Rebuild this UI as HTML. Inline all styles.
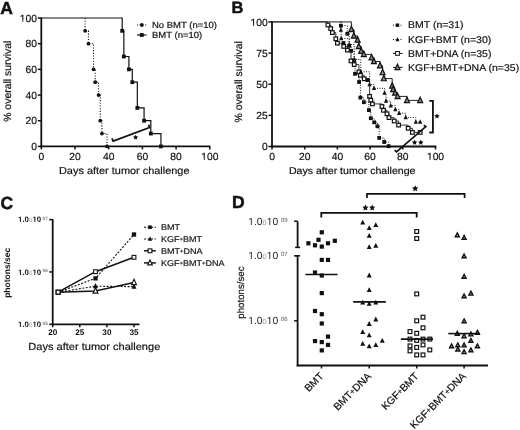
<!DOCTYPE html>
<html><head><meta charset="utf-8"><style>
html,body{margin:0;padding:0;background:#fff;}
body{width:520px;height:430px;overflow:hidden;}
svg{display:block;font-family:"Liberation Sans", sans-serif;filter:grayscale(1) blur(0.3px);text-rendering:geometricPrecision;}
</style></head><body>
<svg width="520" height="430" viewBox="0 0 520 430">
<rect width="520" height="430" fill="#fff"/>
<text x="0.20" y="14.00" font-size="17.5" text-anchor="start" font-weight="bold" fill="#111" stroke="#111" stroke-width="0.5">A</text>
<path d="M85.11,18.00 H85.11 V30.84 H88.48 V43.68 H93.53 V69.36 H95.22 V82.20 H98.59 V95.04 H100.28 V120.72 H101.96 V133.56 H107.02 V146.40" fill="none" stroke="#111" stroke-width="1.1" stroke-dasharray="1.1 1.6"/>
<path d="M41.30,18.00 H122.18 V30.84 H123.86 V56.52 H128.92 V69.36 H132.29 V82.20 H137.34 V107.88 H144.08 V120.72 H150.82 V133.56 H160.94 V146.40" fill="none" stroke="#111" stroke-width="1.2"/>
<circle cx="85.11" cy="30.84" r="1.9" fill="#111"/>
<circle cx="88.48" cy="43.68" r="1.9" fill="#111"/>
<circle cx="93.53" cy="69.36" r="1.9" fill="#111"/>
<circle cx="95.22" cy="82.20" r="1.9" fill="#111"/>
<circle cx="98.59" cy="95.04" r="1.9" fill="#111"/>
<circle cx="100.28" cy="120.72" r="1.9" fill="#111"/>
<circle cx="101.96" cy="133.56" r="1.9" fill="#111"/>
<circle cx="107.02" cy="146.40" r="1.9" fill="#111"/>
<rect x="120.28" y="28.94" width="3.8" height="3.8" fill="#111"/>
<rect x="121.96" y="54.62" width="3.8" height="3.8" fill="#111"/>
<rect x="127.02" y="67.46" width="3.8" height="3.8" fill="#111"/>
<rect x="130.39" y="80.30" width="3.8" height="3.8" fill="#111"/>
<rect x="135.44" y="105.98" width="3.8" height="3.8" fill="#111"/>
<rect x="142.18" y="118.82" width="3.8" height="3.8" fill="#111"/>
<rect x="148.92" y="131.66" width="3.8" height="3.8" fill="#111"/>
<rect x="159.03" y="144.50" width="3.8" height="3.8" fill="#111"/>
<line x1="41.30" y1="17.50" x2="41.30" y2="147.20" stroke="#111" stroke-width="1.8"/>
<line x1="40.40" y1="146.40" x2="210.30" y2="146.40" stroke="#111" stroke-width="1.8"/>
<line x1="37.80" y1="146.40" x2="41.30" y2="146.40" stroke="#111" stroke-width="1.5"/>
<text class="n1" x="37.00" y="150.10" font-size="10.3" text-anchor="end" font-weight="normal" fill="#111" stroke="#111" stroke-width="0.2">0</text>
<line x1="37.80" y1="120.72" x2="41.30" y2="120.72" stroke="#111" stroke-width="1.5"/>
<text class="n1" x="37.00" y="124.42" font-size="10.3" text-anchor="end" font-weight="normal" fill="#111" stroke="#111" stroke-width="0.2">20</text>
<line x1="37.80" y1="95.04" x2="41.30" y2="95.04" stroke="#111" stroke-width="1.5"/>
<text class="n1" x="37.00" y="98.74" font-size="10.3" text-anchor="end" font-weight="normal" fill="#111" stroke="#111" stroke-width="0.2">40</text>
<line x1="37.80" y1="69.36" x2="41.30" y2="69.36" stroke="#111" stroke-width="1.5"/>
<text class="n1" x="37.00" y="73.06" font-size="10.3" text-anchor="end" font-weight="normal" fill="#111" stroke="#111" stroke-width="0.2">60</text>
<line x1="37.80" y1="43.68" x2="41.30" y2="43.68" stroke="#111" stroke-width="1.5"/>
<text class="n1" x="37.00" y="47.38" font-size="10.3" text-anchor="end" font-weight="normal" fill="#111" stroke="#111" stroke-width="0.2">80</text>
<line x1="37.80" y1="18.00" x2="41.30" y2="18.00" stroke="#111" stroke-width="1.5"/>
<text class="n1" x="37.00" y="21.70" font-size="10.3" text-anchor="end" font-weight="normal" fill="#111" stroke="#111" stroke-width="0.2">100</text>
<line x1="41.30" y1="146.40" x2="41.30" y2="149.40" stroke="#111" stroke-width="1.5"/>
<text class="n1" x="41.30" y="160.10" font-size="10.3" text-anchor="middle" font-weight="normal" fill="#111" stroke="#111" stroke-width="0.2">0</text>
<line x1="75.00" y1="146.40" x2="75.00" y2="149.40" stroke="#111" stroke-width="1.5"/>
<text class="n1" x="75.00" y="160.10" font-size="10.3" text-anchor="middle" font-weight="normal" fill="#111" stroke="#111" stroke-width="0.2">20</text>
<line x1="108.70" y1="146.40" x2="108.70" y2="149.40" stroke="#111" stroke-width="1.5"/>
<text class="n1" x="108.70" y="160.10" font-size="10.3" text-anchor="middle" font-weight="normal" fill="#111" stroke="#111" stroke-width="0.2">40</text>
<line x1="142.40" y1="146.40" x2="142.40" y2="149.40" stroke="#111" stroke-width="1.5"/>
<text class="n1" x="142.40" y="160.10" font-size="10.3" text-anchor="middle" font-weight="normal" fill="#111" stroke="#111" stroke-width="0.2">60</text>
<line x1="176.10" y1="146.40" x2="176.10" y2="149.40" stroke="#111" stroke-width="1.5"/>
<text class="n1" x="176.10" y="160.10" font-size="10.3" text-anchor="middle" font-weight="normal" fill="#111" stroke="#111" stroke-width="0.2">80</text>
<line x1="209.80" y1="146.40" x2="209.80" y2="149.40" stroke="#111" stroke-width="1.5"/>
<text class="n1" x="209.80" y="160.10" font-size="10.3" text-anchor="middle" font-weight="normal" fill="#111" stroke="#111" stroke-width="0.2">100</text>
<text x="124.25" y="174.20" font-size="10.93" text-anchor="middle" font-weight="normal" fill="#111" stroke="#111" stroke-width="0.2" transform="translate(0,174.20) scale(1,0.93) translate(0,-174.20)">Days after tumor challenge</text>
<text x="0.00" y="0.00" font-size="10.45" text-anchor="middle" font-weight="normal" fill="#111" stroke="#111" stroke-width="0.2" transform="translate(10.8,81.2) rotate(-90)">% overall survival</text>
<line x1="137.00" y1="25.00" x2="146.50" y2="25.00" stroke="#111" stroke-width="1.1" stroke-dasharray="1.1 1.6"/>
<circle cx="141.80" cy="25.00" r="1.9" fill="#111"/>
<line x1="137.00" y1="35.00" x2="146.50" y2="35.00" stroke="#111" stroke-width="1.2"/>
<rect x="139.90" y="33.10" width="3.8" height="3.8" fill="#111"/>
<text x="152.00" y="27.80" font-size="9.5" text-anchor="start" font-weight="normal" fill="#111" stroke="#111" stroke-width="0.2" transform="translate(0,27.80) scale(1,0.93) translate(0,-27.80)">No BMT (n=10)</text>
<text x="152.00" y="37.80" font-size="9.5" text-anchor="start" font-weight="normal" fill="#111" stroke="#111" stroke-width="0.2" transform="translate(0,37.80) scale(1,0.93) translate(0,-37.80)">BMT (n=10)</text>
<path d="M111.90,138.40 L113.20,141.10 L149.50,127.50 L148.60,124.80" fill="none" stroke="#111" stroke-width="1.8"/>
<polygon points="135.60,134.70 136.39,136.31 138.17,136.57 136.88,137.82 137.19,139.58 135.60,138.75 134.01,139.58 134.32,137.82 133.03,136.57 134.81,136.31" fill="#111"/>
<text x="231.50" y="13.00" font-size="16.5" text-anchor="start" font-weight="bold" fill="#111" stroke="#111" stroke-width="0.5">B</text>
<path d="M340.90,21.90 H340.90 V25.70 H347.30 V33.80 H349.20 V45.80 H351.20 V50.80 H354.20 V60.40 H355.00 V73.80 H359.10 V82.00 H360.40 V97.60 H363.90 V102.20 H368.90 V110.10 H370.80 V118.20 H374.20 V122.30 H377.40 V126.30 H379.20 V137.90 H384.20 V142.00 H388.70 V146.20" fill="none" stroke="#111" stroke-width="1" stroke-dasharray="1 1.5"/>
<path d="M340.90,21.90 H340.90 V30.00 H341.20 V38.40 H349.20 V44.50 H354.20 V59.50 H360.80 V71.80 H369.50 V84.50 H374.00 V88.30 H384.50 V92.90 H386.00 V101.00 H390.70 V105.70 H395.30 V109.40 H399.10 V113.20 H405.70 V117.40 H415.80 V122.00 H420.20 V122.00" fill="none" stroke="#111" stroke-width="1" stroke-dasharray="1 1.5"/>
<path d="M272.00,21.90 H327.90 V25.00 H330.70 V28.60 H332.40 V32.60 H335.80 V38.80 H337.40 V43.20 H343.70 V46.40 H347.40 V50.10 H351.00 V60.90 H354.20 V64.60 H358.90 V71.90 H360.40 V75.30 H364.20 V78.80 H369.60 V96.40 H370.80 V100.20 H372.40 V103.90 H381.90 V106.50 H383.50 V110.30 H387.00 V113.80 H389.00 V117.60 H394.20 V121.00 H398.60 V125.10 H408.20 V128.30 H412.40 V132.40 H420.20 V132.40" fill="none" stroke="#333" stroke-width="1"/>
<path d="M272.00,21.90 H351.40 V29.50 H353.90 V36.00 H357.60 V40.00 H358.80 V46.50 H361.20 V51.20 H363.80 V54.40 H371.60 V57.70 H373.90 V61.50 H380.00 V65.70 H382.60 V72.60 H383.80 V78.60 H392.20 V86.00 H393.20 V89.50 H395.10 V93.00 H397.60 V96.40 H407.00 V100.40 H420.20 V100.40" fill="none" stroke="#222" stroke-width="1"/>
<polygon points="351.40,26.26 353.90,31.66 348.90,31.66" fill="#888" stroke="#111" stroke-width="1.2" stroke-linejoin="miter"/>
<polygon points="353.90,32.76 356.40,38.16 351.40,38.16" fill="#888" stroke="#111" stroke-width="1.2" stroke-linejoin="miter"/>
<polygon points="357.60,36.76 360.10,42.16 355.10,42.16" fill="#888" stroke="#111" stroke-width="1.2" stroke-linejoin="miter"/>
<polygon points="358.80,43.26 361.30,48.66 356.30,48.66" fill="#888" stroke="#111" stroke-width="1.2" stroke-linejoin="miter"/>
<polygon points="361.20,47.96 363.70,53.36 358.70,53.36" fill="#888" stroke="#111" stroke-width="1.2" stroke-linejoin="miter"/>
<polygon points="363.80,51.16 366.30,56.56 361.30,56.56" fill="#888" stroke="#111" stroke-width="1.2" stroke-linejoin="miter"/>
<polygon points="371.60,54.46 374.10,59.86 369.10,59.86" fill="#888" stroke="#111" stroke-width="1.2" stroke-linejoin="miter"/>
<polygon points="373.90,58.26 376.40,63.66 371.40,63.66" fill="#888" stroke="#111" stroke-width="1.2" stroke-linejoin="miter"/>
<polygon points="380.00,62.46 382.50,67.86 377.50,67.86" fill="#888" stroke="#111" stroke-width="1.2" stroke-linejoin="miter"/>
<polygon points="382.60,69.36 385.10,74.76 380.10,74.76" fill="#888" stroke="#111" stroke-width="1.2" stroke-linejoin="miter"/>
<polygon points="383.80,75.36 386.30,80.76 381.30,80.76" fill="#888" stroke="#111" stroke-width="1.2" stroke-linejoin="miter"/>
<polygon points="392.20,82.76 394.70,88.16 389.70,88.16" fill="#888" stroke="#111" stroke-width="1.2" stroke-linejoin="miter"/>
<polygon points="393.20,86.26 395.70,91.66 390.70,91.66" fill="#888" stroke="#111" stroke-width="1.2" stroke-linejoin="miter"/>
<polygon points="395.10,89.76 397.60,95.16 392.60,95.16" fill="#888" stroke="#111" stroke-width="1.2" stroke-linejoin="miter"/>
<polygon points="397.60,93.16 400.10,98.56 395.10,98.56" fill="#888" stroke="#111" stroke-width="1.2" stroke-linejoin="miter"/>
<polygon points="407.00,97.16 409.50,102.56 404.50,102.56" fill="#888" stroke="#111" stroke-width="1.2" stroke-linejoin="miter"/>
<polygon points="420.20,97.16 422.70,102.56 417.70,102.56" fill="#888" stroke="#111" stroke-width="1.2" stroke-linejoin="miter"/>
<rect x="326.10" y="23.20" width="3.6" height="3.6" fill="#fff" stroke="#111" stroke-width="1.2"/>
<rect x="328.90" y="26.80" width="3.6" height="3.6" fill="#fff" stroke="#111" stroke-width="1.2"/>
<rect x="330.60" y="30.80" width="3.6" height="3.6" fill="#fff" stroke="#111" stroke-width="1.2"/>
<rect x="334.00" y="37.00" width="3.6" height="3.6" fill="#fff" stroke="#111" stroke-width="1.2"/>
<rect x="335.60" y="41.40" width="3.6" height="3.6" fill="#fff" stroke="#111" stroke-width="1.2"/>
<rect x="341.90" y="44.60" width="3.6" height="3.6" fill="#fff" stroke="#111" stroke-width="1.2"/>
<rect x="345.60" y="48.30" width="3.6" height="3.6" fill="#fff" stroke="#111" stroke-width="1.2"/>
<rect x="349.20" y="59.10" width="3.6" height="3.6" fill="#fff" stroke="#111" stroke-width="1.2"/>
<rect x="352.40" y="62.80" width="3.6" height="3.6" fill="#fff" stroke="#111" stroke-width="1.2"/>
<rect x="357.10" y="70.10" width="3.6" height="3.6" fill="#fff" stroke="#111" stroke-width="1.2"/>
<rect x="358.60" y="73.50" width="3.6" height="3.6" fill="#fff" stroke="#111" stroke-width="1.2"/>
<rect x="362.40" y="77.00" width="3.6" height="3.6" fill="#fff" stroke="#111" stroke-width="1.2"/>
<rect x="367.80" y="94.60" width="3.6" height="3.6" fill="#fff" stroke="#111" stroke-width="1.2"/>
<rect x="369.00" y="98.40" width="3.6" height="3.6" fill="#fff" stroke="#111" stroke-width="1.2"/>
<rect x="370.60" y="102.10" width="3.6" height="3.6" fill="#fff" stroke="#111" stroke-width="1.2"/>
<rect x="380.10" y="104.70" width="3.6" height="3.6" fill="#fff" stroke="#111" stroke-width="1.2"/>
<rect x="381.70" y="108.50" width="3.6" height="3.6" fill="#fff" stroke="#111" stroke-width="1.2"/>
<rect x="385.20" y="112.00" width="3.6" height="3.6" fill="#fff" stroke="#111" stroke-width="1.2"/>
<rect x="387.20" y="115.80" width="3.6" height="3.6" fill="#fff" stroke="#111" stroke-width="1.2"/>
<rect x="392.40" y="119.20" width="3.6" height="3.6" fill="#fff" stroke="#111" stroke-width="1.2"/>
<rect x="396.80" y="123.30" width="3.6" height="3.6" fill="#fff" stroke="#111" stroke-width="1.2"/>
<rect x="406.40" y="126.50" width="3.6" height="3.6" fill="#fff" stroke="#111" stroke-width="1.2"/>
<rect x="410.60" y="130.60" width="3.6" height="3.6" fill="#fff" stroke="#111" stroke-width="1.2"/>
<rect x="418.40" y="130.60" width="3.6" height="3.6" fill="#fff" stroke="#111" stroke-width="1.2"/>
<polygon points="340.90,27.28 343.00,31.81 338.80,31.81" fill="#111"/>
<polygon points="341.20,35.68 343.30,40.21 339.10,40.21" fill="#111"/>
<polygon points="349.20,41.78 351.30,46.31 347.10,46.31" fill="#111"/>
<polygon points="354.20,56.78 356.30,61.31 352.10,61.31" fill="#111"/>
<polygon points="360.80,69.08 362.90,73.61 358.70,73.61" fill="#111"/>
<polygon points="369.50,81.78 371.60,86.31 367.40,86.31" fill="#111"/>
<polygon points="374.00,85.58 376.10,90.11 371.90,90.11" fill="#111"/>
<polygon points="384.50,90.18 386.60,94.71 382.40,94.71" fill="#111"/>
<polygon points="386.00,98.28 388.10,102.81 383.90,102.81" fill="#111"/>
<polygon points="390.70,102.98 392.80,107.51 388.60,107.51" fill="#111"/>
<polygon points="395.30,106.68 397.40,111.21 393.20,111.21" fill="#111"/>
<polygon points="399.10,110.48 401.20,115.01 397.00,115.01" fill="#111"/>
<polygon points="405.70,114.68 407.80,119.21 403.60,119.21" fill="#111"/>
<polygon points="415.80,119.28 417.90,123.81 413.70,123.81" fill="#111"/>
<polygon points="420.20,119.28 422.30,123.81 418.10,123.81" fill="#111"/>
<rect x="339.00" y="23.80" width="3.8" height="3.8" fill="#111"/>
<rect x="345.40" y="31.90" width="3.8" height="3.8" fill="#111"/>
<rect x="347.30" y="43.90" width="3.8" height="3.8" fill="#111"/>
<rect x="349.30" y="48.90" width="3.8" height="3.8" fill="#111"/>
<rect x="352.30" y="58.50" width="3.8" height="3.8" fill="#111"/>
<rect x="353.10" y="71.90" width="3.8" height="3.8" fill="#111"/>
<rect x="357.20" y="80.10" width="3.8" height="3.8" fill="#111"/>
<rect x="358.50" y="95.70" width="3.8" height="3.8" fill="#111"/>
<rect x="362.00" y="100.30" width="3.8" height="3.8" fill="#111"/>
<rect x="367.00" y="108.20" width="3.8" height="3.8" fill="#111"/>
<rect x="368.90" y="116.30" width="3.8" height="3.8" fill="#111"/>
<rect x="372.30" y="120.40" width="3.8" height="3.8" fill="#111"/>
<rect x="375.50" y="124.40" width="3.8" height="3.8" fill="#111"/>
<rect x="377.30" y="136.00" width="3.8" height="3.8" fill="#111"/>
<rect x="382.30" y="140.10" width="3.8" height="3.8" fill="#111"/>
<rect x="386.80" y="144.30" width="3.8" height="3.8" fill="#111"/>
<rect x="365.60" y="78.20" width="3.8" height="3.8" fill="#111"/>
<rect x="341.60" y="41.10" width="3.8" height="3.8" fill="#111"/>
<line x1="272.00" y1="21.40" x2="272.00" y2="147.30" stroke="#111" stroke-width="1.8"/>
<line x1="271.10" y1="146.50" x2="436.30" y2="146.50" stroke="#111" stroke-width="1.8"/>
<line x1="268.50" y1="146.50" x2="272.00" y2="146.50" stroke="#111" stroke-width="1.5"/>
<text class="n1" x="267.70" y="150.20" font-size="10.3" text-anchor="end" font-weight="normal" fill="#111" stroke="#111" stroke-width="0.2">0</text>
<line x1="268.50" y1="115.35" x2="272.00" y2="115.35" stroke="#111" stroke-width="1.5"/>
<text class="n1" x="267.70" y="119.05" font-size="10.3" text-anchor="end" font-weight="normal" fill="#111" stroke="#111" stroke-width="0.2">25</text>
<line x1="268.50" y1="84.20" x2="272.00" y2="84.20" stroke="#111" stroke-width="1.5"/>
<text class="n1" x="267.70" y="87.90" font-size="10.3" text-anchor="end" font-weight="normal" fill="#111" stroke="#111" stroke-width="0.2">50</text>
<line x1="268.50" y1="53.05" x2="272.00" y2="53.05" stroke="#111" stroke-width="1.5"/>
<text class="n1" x="267.70" y="56.75" font-size="10.3" text-anchor="end" font-weight="normal" fill="#111" stroke="#111" stroke-width="0.2">75</text>
<line x1="268.50" y1="21.90" x2="272.00" y2="21.90" stroke="#111" stroke-width="1.5"/>
<text class="n1" x="267.70" y="25.60" font-size="10.3" text-anchor="end" font-weight="normal" fill="#111" stroke="#111" stroke-width="0.2">100</text>
<line x1="272.00" y1="146.50" x2="272.00" y2="149.50" stroke="#111" stroke-width="1.5"/>
<text class="n1" x="272.00" y="160.20" font-size="10.3" text-anchor="middle" font-weight="normal" fill="#111" stroke="#111" stroke-width="0.2">0</text>
<line x1="304.70" y1="146.50" x2="304.70" y2="149.50" stroke="#111" stroke-width="1.5"/>
<text class="n1" x="304.70" y="160.20" font-size="10.3" text-anchor="middle" font-weight="normal" fill="#111" stroke="#111" stroke-width="0.2">20</text>
<line x1="337.40" y1="146.50" x2="337.40" y2="149.50" stroke="#111" stroke-width="1.5"/>
<text class="n1" x="337.40" y="160.20" font-size="10.3" text-anchor="middle" font-weight="normal" fill="#111" stroke="#111" stroke-width="0.2">40</text>
<line x1="370.10" y1="146.50" x2="370.10" y2="149.50" stroke="#111" stroke-width="1.5"/>
<text class="n1" x="370.10" y="160.20" font-size="10.3" text-anchor="middle" font-weight="normal" fill="#111" stroke="#111" stroke-width="0.2">60</text>
<line x1="402.80" y1="146.50" x2="402.80" y2="149.50" stroke="#111" stroke-width="1.5"/>
<text class="n1" x="402.80" y="160.20" font-size="10.3" text-anchor="middle" font-weight="normal" fill="#111" stroke="#111" stroke-width="0.2">80</text>
<line x1="435.50" y1="146.50" x2="435.50" y2="149.50" stroke="#111" stroke-width="1.5"/>
<text class="n1" x="435.50" y="160.20" font-size="10.3" text-anchor="middle" font-weight="normal" fill="#111" stroke="#111" stroke-width="0.2">100</text>
<text x="352.20" y="173.60" font-size="10.6" text-anchor="middle" font-weight="normal" fill="#111" stroke="#111" stroke-width="0.2" transform="translate(0,173.60) scale(1,0.93) translate(0,-173.60)">Days after tumor challenge</text>
<text x="0.00" y="0.00" font-size="10.45" text-anchor="middle" font-weight="normal" fill="#111" stroke="#111" stroke-width="0.2" transform="translate(242,81.8) rotate(-90)">% overall survival</text>
<line x1="393.00" y1="25.20" x2="402.60" y2="25.20" stroke="#111" stroke-width="1" stroke-dasharray="1 1.5"/>
<rect x="395.80" y="23.50" width="3.4" height="3.4" fill="#111"/>
<line x1="393.00" y1="39.50" x2="402.60" y2="39.50" stroke="#111" stroke-width="1" stroke-dasharray="1 1.5"/>
<polygon points="397.50,37.04 399.40,41.14 395.60,41.14" fill="#111"/>
<line x1="393.00" y1="53.40" x2="402.60" y2="53.40" stroke="#111" stroke-width="1"/>
<rect x="395.60" y="51.50" width="3.8" height="3.8" fill="#fff" stroke="#111" stroke-width="1"/>
<line x1="393.00" y1="67.40" x2="402.60" y2="67.40" stroke="#111" stroke-width="1"/>
<polygon points="397.50,64.16 400.00,69.56 395.00,69.56" fill="#888" stroke="#111" stroke-width="1.2" stroke-linejoin="miter"/>
<text x="408.00" y="28.30" font-size="10.5" text-anchor="start" font-weight="normal" fill="#111" stroke="#111" stroke-width="0.2" transform="translate(0,28.30) scale(1,0.93) translate(0,-28.30)">BMT (n=31)</text>
<text x="408.00" y="42.60" font-size="10.5" text-anchor="start" font-weight="normal" fill="#111" stroke="#111" stroke-width="0.2" transform="translate(0,42.60) scale(1,0.93) translate(0,-42.60)">KGF+BMT (n=30)</text>
<text x="408.00" y="56.60" font-size="10.5" text-anchor="start" font-weight="normal" fill="#111" stroke="#111" stroke-width="0.2" transform="translate(0,56.60) scale(1,0.93) translate(0,-56.60)">BMT+DNA (n=35)</text>
<text x="408.00" y="70.60" font-size="10.5" text-anchor="start" font-weight="normal" fill="#111" stroke="#111" stroke-width="0.2" transform="translate(0,70.60) scale(1,0.93) translate(0,-70.60)">KGF+BMT+DNA (n=35)</text>
<path d="M429.30,100.90 L432.90,100.90 L432.90,132.50 L429.30,132.50" fill="none" stroke="#111" stroke-width="1.8"/>
<polygon points="437.00,113.40 437.82,115.07 439.66,115.33 438.33,116.63 438.65,118.47 437.00,117.60 435.35,118.47 435.67,116.63 434.34,115.33 436.18,115.07" fill="#111"/>
<path d="M394.60,150.20 L396.50,151.90 L425.80,126.60 L423.80,125.20" fill="none" stroke="#111" stroke-width="1.7"/>
<polygon points="414.60,139.70 415.42,141.37 417.26,141.63 415.93,142.93 416.25,144.77 414.60,143.90 412.95,144.77 413.27,142.93 411.94,141.63 413.78,141.37" fill="#111"/>
<polygon points="420.80,139.70 421.62,141.37 423.46,141.63 422.13,142.93 422.45,144.77 420.80,143.90 419.15,144.77 419.47,142.93 418.14,141.63 419.98,141.37" fill="#111"/>
<text x="0.40" y="208.80" font-size="17.5" text-anchor="start" font-weight="bold" fill="#111" stroke="#111" stroke-width="0.5">C</text>
<line x1="52.70" y1="219.20" x2="52.70" y2="325.10" stroke="#111" stroke-width="1.8"/>
<line x1="51.80" y1="324.30" x2="139.50" y2="324.30" stroke="#111" stroke-width="1.8"/>
<line x1="49.20" y1="219.60" x2="52.70" y2="219.60" stroke="#111" stroke-width="1.5"/>
<text class="n1" x="41.1" y="222.30" font-size="7.8" text-anchor="end" font-weight="bold" fill="#111">1.0<tspan fill="#aaa" font-weight="normal" font-size="6.2">0</tspan>10</text>
<text x="42.6" y="220.00" font-size="4.6" font-weight="bold" fill="#777">07</text>
<line x1="49.20" y1="271.95" x2="52.70" y2="271.95" stroke="#111" stroke-width="1.5"/>
<text class="n1" x="41.1" y="274.65" font-size="7.8" text-anchor="end" font-weight="bold" fill="#111">1.0<tspan fill="#aaa" font-weight="normal" font-size="6.2">0</tspan>10</text>
<text x="42.6" y="272.35" font-size="4.6" font-weight="bold" fill="#777">06</text>
<line x1="49.20" y1="324.30" x2="52.70" y2="324.30" stroke="#111" stroke-width="1.5"/>
<text class="n1" x="41.1" y="327.00" font-size="7.8" text-anchor="end" font-weight="bold" fill="#111">1.0<tspan fill="#aaa" font-weight="normal" font-size="6.2">0</tspan>10</text>
<text x="42.6" y="324.70" font-size="4.6" font-weight="bold" fill="#777">05</text>
<line x1="52.70" y1="324.30" x2="52.70" y2="327.30" stroke="#111" stroke-width="1.5"/>
<text class="n1" x="52.70" y="335.30" font-size="8.2" text-anchor="middle" font-weight="bold" fill="#111">20</text>
<line x1="79.80" y1="324.30" x2="79.80" y2="327.30" stroke="#111" stroke-width="1.5"/>
<text class="n1" x="79.80" y="335.30" font-size="8.2" text-anchor="middle" font-weight="bold" fill="#111">25</text>
<line x1="106.90" y1="324.30" x2="106.90" y2="327.30" stroke="#111" stroke-width="1.5"/>
<text class="n1" x="106.90" y="335.30" font-size="8.2" text-anchor="middle" font-weight="bold" fill="#111">30</text>
<line x1="134.00" y1="324.30" x2="134.00" y2="327.30" stroke="#111" stroke-width="1.5"/>
<text class="n1" x="134.00" y="335.30" font-size="8.2" text-anchor="middle" font-weight="bold" fill="#111">35</text>
<text x="94.30" y="350.10" font-size="11.05" text-anchor="middle" font-weight="normal" fill="#111" stroke="#111" stroke-width="0.2" transform="translate(0,350.10) scale(1,0.93) translate(0,-350.10)">Days after tumor challenge</text>
<text x="0.00" y="0.00" font-size="8.5" text-anchor="middle" font-weight="bold" fill="#111" transform="translate(9.8,272.8) rotate(-90)">photons/sec</text>
<path d="M58.12,292.20 L95.50,278.40 L134.00,234.50" fill="none" stroke="#111" stroke-width="1.1" stroke-dasharray="2 1.5"/>
<path d="M58.12,292.20 L95.50,286.20 L134.00,286.70" fill="none" stroke="#111" stroke-width="1.1" stroke-dasharray="2 1.5"/>
<path d="M58.12,292.20 L95.50,271.70 L134.00,257.30" fill="none" stroke="#111" stroke-width="1.5"/>
<path d="M58.12,292.20 L95.50,291.00 L134.00,282.50" fill="none" stroke="#111" stroke-width="1.5"/>
<rect x="56.22" y="290.30" width="3.8" height="3.8" fill="#fff" stroke="#111" stroke-width="1.1"/>
<rect x="93.60" y="269.80" width="3.8" height="3.8" fill="#fff" stroke="#111" stroke-width="1.1"/>
<rect x="132.10" y="255.40" width="3.8" height="3.8" fill="#fff" stroke="#111" stroke-width="1.1"/>
<rect x="93.35" y="276.25" width="4.3" height="4.3" fill="#111"/>
<rect x="131.85" y="232.35" width="4.3" height="4.3" fill="#111"/>
<polygon points="95.50,282.96 98.00,288.36 93.00,288.36" fill="#111"/>
<polygon points="134.00,283.46 136.50,288.86 131.50,288.86" fill="#111"/>
<polygon points="95.50,287.76 98.00,293.16 93.00,293.16" fill="#fff" stroke="#111" stroke-width="1.1" stroke-linejoin="miter"/>
<polygon points="134.00,279.26 136.50,284.66 131.50,284.66" fill="#fff" stroke="#111" stroke-width="1.1" stroke-linejoin="miter"/>
<rect x="56.12" y="290.20" width="4" height="4" fill="#fff" stroke="#111" stroke-width="1.3"/>
<line x1="144.00" y1="227.20" x2="155.80" y2="227.20" stroke="#111" stroke-width="1.1" stroke-dasharray="2 1.5"/>
<rect x="148.20" y="225.40" width="3.6" height="3.6" fill="#111"/>
<line x1="144.00" y1="239.00" x2="155.80" y2="239.00" stroke="#111" stroke-width="1.1" stroke-dasharray="2 1.5"/>
<polygon points="150.00,236.28 152.10,240.81 147.90,240.81" fill="#111"/>
<line x1="144.00" y1="250.80" x2="155.80" y2="250.80" stroke="#111" stroke-width="1.5"/>
<rect x="148.10" y="248.90" width="3.8" height="3.8" fill="#fff" stroke="#111" stroke-width="1.1"/>
<line x1="144.00" y1="262.90" x2="155.80" y2="262.90" stroke="#111" stroke-width="1.5"/>
<polygon points="150.00,259.92 152.30,264.89 147.70,264.89" fill="#fff" stroke="#111" stroke-width="1.1" stroke-linejoin="miter"/>
<text x="161.00" y="230.20" font-size="9" text-anchor="start" font-weight="normal" fill="#111" stroke="#111" stroke-width="0.2" transform="translate(0,230.20) scale(1,0.93) translate(0,-230.20)">BMT</text>
<text x="161.00" y="242.00" font-size="9" text-anchor="start" font-weight="normal" fill="#111" stroke="#111" stroke-width="0.2" transform="translate(0,242.00) scale(1,0.93) translate(0,-242.00)">KGF<tspan font-size="6" dy="-0.9">+</tspan><tspan dy="0.9">BMT</tspan></text>
<text x="161.00" y="253.80" font-size="9" text-anchor="start" font-weight="normal" fill="#111" stroke="#111" stroke-width="0.2" transform="translate(0,253.80) scale(1,0.93) translate(0,-253.80)">BMT<tspan font-size="6" dy="-0.9">+</tspan><tspan dy="0.9">DNA</tspan></text>
<text x="161.00" y="265.90" font-size="9" text-anchor="start" font-weight="normal" fill="#111" stroke="#111" stroke-width="0.2" transform="translate(0,265.90) scale(1,0.93) translate(0,-265.90)">KGF<tspan font-size="6" dy="-0.9">+</tspan><tspan dy="0.9">BMT<tspan font-size="6" dy="-0.9">+</tspan><tspan dy="0.9">DNA</tspan></tspan></text>
<text x="232.00" y="207.80" font-size="17.5" text-anchor="start" font-weight="bold" fill="#111" stroke="#111" stroke-width="0.5">D</text>
<line x1="297.60" y1="221.20" x2="297.60" y2="247.60" stroke="#111" stroke-width="1.8"/>
<line x1="294.10" y1="221.20" x2="297.60" y2="221.20" stroke="#111" stroke-width="1.5"/>
<line x1="295.10" y1="247.40" x2="300.10" y2="247.40" stroke="#111" stroke-width="1.5"/>
<line x1="297.60" y1="255.60" x2="297.60" y2="366.30" stroke="#111" stroke-width="1.8"/>
<line x1="295.10" y1="255.80" x2="300.10" y2="255.80" stroke="#111" stroke-width="1.5"/>
<line x1="294.10" y1="255.80" x2="297.60" y2="255.80" stroke="#111" stroke-width="1.5"/>
<line x1="294.10" y1="320.80" x2="297.60" y2="320.80" stroke="#111" stroke-width="1.5"/>
<line x1="296.70" y1="365.50" x2="488.00" y2="365.50" stroke="#111" stroke-width="1.8"/>
<text class="n1" x="278.2" y="225.00" font-size="10.3" text-anchor="end" fill="#222">1.0<tspan fill="#999" font-size="7.4">0</tspan>10</text>
<text x="280.9" y="221.70" font-size="6" fill="#555">09</text>
<text class="n1" x="278.2" y="259.20" font-size="10.3" text-anchor="end" fill="#222">1.0<tspan fill="#999" font-size="7.4">0</tspan>10</text>
<text x="280.9" y="255.90" font-size="6" fill="#555">07</text>
<text class="n1" x="278.2" y="324.40" font-size="10.3" text-anchor="end" fill="#222">1.0<tspan fill="#999" font-size="7.4">0</tspan>10</text>
<text x="280.9" y="321.10" font-size="6" fill="#555">06</text>
<text x="0.00" y="0.00" font-size="9.7" text-anchor="middle" font-weight="normal" fill="#111" stroke="#111" stroke-width="0.2" transform="translate(244.3,292.6) rotate(-90)">photons/sec</text>
<line x1="321.50" y1="365.50" x2="321.50" y2="368.50" stroke="#111" stroke-width="1.5"/>
<line x1="369.20" y1="365.50" x2="369.20" y2="368.50" stroke="#111" stroke-width="1.5"/>
<line x1="416.70" y1="365.50" x2="416.70" y2="368.50" stroke="#111" stroke-width="1.5"/>
<line x1="464.10" y1="365.50" x2="464.10" y2="368.50" stroke="#111" stroke-width="1.5"/>
<text x="0" y="0" font-size="10.3" text-anchor="end" fill="#111" stroke="#111" stroke-width="0.2" transform="translate(324.10,376.90) rotate(-45)">BMT</text>
<text x="0" y="0" font-size="10.3" text-anchor="end" fill="#111" stroke="#111" stroke-width="0.2" transform="translate(371.80,376.90) rotate(-45)">BMT<tspan font-size="8" dy="-0.8">+</tspan><tspan dy="0.8">DNA</tspan></text>
<text x="0" y="0" font-size="10.3" text-anchor="end" fill="#111" stroke="#111" stroke-width="0.2" transform="translate(419.30,376.90) rotate(-45)">KGF<tspan font-size="8" dy="-0.8">+</tspan><tspan dy="0.8">BMT</tspan></text>
<text x="0" y="0" font-size="10.3" text-anchor="end" fill="#111" stroke="#111" stroke-width="0.2" transform="translate(466.70,376.90) rotate(-45)">KGF<tspan font-size="8" dy="-0.8">+</tspan><tspan dy="0.8">BMT<tspan font-size="8" dy="-0.8">+</tspan><tspan dy="0.8">DNA</tspan></tspan></text>
<rect x="319.70" y="230.20" width="4.2" height="4.2" fill="#111"/>
<rect x="306.30" y="241.20" width="4.2" height="4.2" fill="#111"/>
<rect x="316.40" y="237.70" width="4.2" height="4.2" fill="#111"/>
<rect x="312.90" y="243.20" width="4.2" height="4.2" fill="#111"/>
<rect x="319.70" y="244.50" width="4.2" height="4.2" fill="#111"/>
<rect x="325.90" y="241.20" width="4.2" height="4.2" fill="#111"/>
<rect x="332.70" y="238.70" width="4.2" height="4.2" fill="#111"/>
<rect x="319.70" y="257.80" width="4.2" height="4.2" fill="#111"/>
<rect x="325.90" y="257.80" width="4.2" height="4.2" fill="#111"/>
<rect x="312.90" y="270.40" width="4.2" height="4.2" fill="#111"/>
<rect x="319.70" y="273.40" width="4.2" height="4.2" fill="#111"/>
<rect x="319.70" y="291.00" width="4.2" height="4.2" fill="#111"/>
<rect x="312.90" y="308.90" width="4.2" height="4.2" fill="#111"/>
<rect x="319.70" y="312.10" width="4.2" height="4.2" fill="#111"/>
<rect x="319.70" y="321.40" width="4.2" height="4.2" fill="#111"/>
<rect x="325.90" y="334.50" width="4.2" height="4.2" fill="#111"/>
<rect x="312.90" y="339.00" width="4.2" height="4.2" fill="#111"/>
<rect x="319.70" y="340.00" width="4.2" height="4.2" fill="#111"/>
<rect x="325.90" y="342.80" width="4.2" height="4.2" fill="#111"/>
<rect x="319.70" y="348.30" width="4.2" height="4.2" fill="#111"/>
<polygon points="362.70,219.82 365.20,224.57 360.20,224.57" fill="#111"/>
<polygon points="369.20,225.32 371.70,230.07 366.70,230.07" fill="#111"/>
<polygon points="375.80,222.32 378.30,227.07 373.30,227.07" fill="#111"/>
<polygon points="369.20,232.93 371.70,237.68 366.70,237.68" fill="#111"/>
<polygon points="369.20,244.22 371.70,248.97 366.70,248.97" fill="#111"/>
<polygon points="375.80,242.93 378.30,247.68 373.30,247.68" fill="#111"/>
<polygon points="369.20,272.62 371.70,277.38 366.70,277.38" fill="#111"/>
<polygon points="369.20,287.23 371.70,291.98 366.70,291.98" fill="#111"/>
<polygon points="362.70,299.82 365.20,304.57 360.20,304.57" fill="#111"/>
<polygon points="369.20,301.02 371.70,305.77 366.70,305.77" fill="#111"/>
<polygon points="375.80,299.82 378.30,304.57 373.30,304.57" fill="#111"/>
<polygon points="375.80,316.62 378.30,321.38 373.30,321.38" fill="#111"/>
<polygon points="369.20,321.12 371.70,325.88 366.70,325.88" fill="#111"/>
<polygon points="362.70,329.23 365.20,333.98 360.20,333.98" fill="#111"/>
<polygon points="369.20,332.43 371.70,337.18 366.70,337.18" fill="#111"/>
<polygon points="382.30,338.02 384.80,342.77 379.80,342.77" fill="#111"/>
<polygon points="362.70,341.02 365.20,345.77 360.20,345.77" fill="#111"/>
<polygon points="369.20,343.52 371.70,348.27 366.70,348.27" fill="#111"/>
<polygon points="375.80,342.23 378.30,346.98 373.30,346.98" fill="#111"/>
<rect x="414.80" y="229.60" width="3.8" height="3.8" fill="#fff" stroke="#111" stroke-width="1.2"/>
<rect x="414.80" y="236.60" width="3.8" height="3.8" fill="#fff" stroke="#111" stroke-width="1.2"/>
<rect x="414.80" y="292.00" width="3.8" height="3.8" fill="#fff" stroke="#111" stroke-width="1.2"/>
<rect x="421.10" y="315.30" width="3.8" height="3.8" fill="#fff" stroke="#111" stroke-width="1.2"/>
<rect x="414.80" y="318.90" width="3.8" height="3.8" fill="#fff" stroke="#111" stroke-width="1.2"/>
<rect x="421.10" y="325.90" width="3.8" height="3.8" fill="#fff" stroke="#111" stroke-width="1.2"/>
<rect x="408.10" y="329.70" width="3.8" height="3.8" fill="#fff" stroke="#111" stroke-width="1.2"/>
<rect x="414.80" y="331.40" width="3.8" height="3.8" fill="#fff" stroke="#111" stroke-width="1.2"/>
<rect x="408.10" y="337.20" width="3.8" height="3.8" fill="#fff" stroke="#111" stroke-width="1.2"/>
<rect x="414.80" y="338.50" width="3.8" height="3.8" fill="#fff" stroke="#111" stroke-width="1.2"/>
<rect x="421.10" y="337.20" width="3.8" height="3.8" fill="#fff" stroke="#111" stroke-width="1.2"/>
<rect x="427.90" y="337.20" width="3.8" height="3.8" fill="#fff" stroke="#111" stroke-width="1.2"/>
<rect x="408.10" y="344.00" width="3.8" height="3.8" fill="#fff" stroke="#111" stroke-width="1.2"/>
<rect x="414.80" y="345.50" width="3.8" height="3.8" fill="#fff" stroke="#111" stroke-width="1.2"/>
<rect x="421.10" y="343.00" width="3.8" height="3.8" fill="#fff" stroke="#111" stroke-width="1.2"/>
<rect x="408.10" y="349.00" width="3.8" height="3.8" fill="#fff" stroke="#111" stroke-width="1.2"/>
<rect x="427.90" y="348.00" width="3.8" height="3.8" fill="#fff" stroke="#111" stroke-width="1.2"/>
<rect x="414.80" y="353.00" width="3.8" height="3.8" fill="#fff" stroke="#111" stroke-width="1.2"/>
<rect x="421.10" y="353.00" width="3.8" height="3.8" fill="#fff" stroke="#111" stroke-width="1.2"/>
<polygon points="457.30,232.90 459.30,236.70 455.30,236.70" fill="#bbb" stroke="#111" stroke-width="1.4" stroke-linejoin="miter"/>
<polygon points="464.10,235.40 466.10,239.20 462.10,239.20" fill="#bbb" stroke="#111" stroke-width="1.4" stroke-linejoin="miter"/>
<polygon points="464.10,254.00 466.10,257.80 462.10,257.80" fill="#bbb" stroke="#111" stroke-width="1.4" stroke-linejoin="miter"/>
<polygon points="464.10,274.40 466.10,278.20 462.10,278.20" fill="#bbb" stroke="#111" stroke-width="1.4" stroke-linejoin="miter"/>
<polygon points="464.10,294.00 466.10,297.80 462.10,297.80" fill="#bbb" stroke="#111" stroke-width="1.4" stroke-linejoin="miter"/>
<polygon points="470.90,291.20 472.90,295.00 468.90,295.00" fill="#bbb" stroke="#111" stroke-width="1.4" stroke-linejoin="miter"/>
<polygon points="464.10,318.90 466.10,322.70 462.10,322.70" fill="#bbb" stroke="#111" stroke-width="1.4" stroke-linejoin="miter"/>
<polygon points="457.30,331.40 459.30,335.20 455.30,335.20" fill="#bbb" stroke="#111" stroke-width="1.4" stroke-linejoin="miter"/>
<polygon points="464.10,333.90 466.10,337.70 462.10,337.70" fill="#bbb" stroke="#111" stroke-width="1.4" stroke-linejoin="miter"/>
<polygon points="470.90,332.10 472.90,335.90 468.90,335.90" fill="#bbb" stroke="#111" stroke-width="1.4" stroke-linejoin="miter"/>
<polygon points="477.40,330.40 479.40,334.20 475.40,334.20" fill="#bbb" stroke="#111" stroke-width="1.4" stroke-linejoin="miter"/>
<polygon points="470.90,338.50 472.90,342.30 468.90,342.30" fill="#bbb" stroke="#111" stroke-width="1.4" stroke-linejoin="miter"/>
<polygon points="451.60,344.00 453.60,347.80 449.60,347.80" fill="#bbb" stroke="#111" stroke-width="1.4" stroke-linejoin="miter"/>
<polygon points="457.80,343.00 459.80,346.80 455.80,346.80" fill="#bbb" stroke="#111" stroke-width="1.4" stroke-linejoin="miter"/>
<polygon points="464.10,343.00 466.10,346.80 462.10,346.80" fill="#bbb" stroke="#111" stroke-width="1.4" stroke-linejoin="miter"/>
<polygon points="477.40,344.00 479.40,347.80 475.40,347.80" fill="#bbb" stroke="#111" stroke-width="1.4" stroke-linejoin="miter"/>
<polygon points="457.80,347.20 459.80,351.00 455.80,351.00" fill="#bbb" stroke="#111" stroke-width="1.4" stroke-linejoin="miter"/>
<polygon points="464.10,349.80 466.10,353.60 462.10,353.60" fill="#bbb" stroke="#111" stroke-width="1.4" stroke-linejoin="miter"/>
<polygon points="470.90,348.00 472.90,351.80 468.90,351.80" fill="#bbb" stroke="#111" stroke-width="1.4" stroke-linejoin="miter"/>
<line x1="305.40" y1="274.50" x2="337.60" y2="274.50" stroke="#111" stroke-width="1.6"/>
<line x1="353.20" y1="301.90" x2="385.80" y2="301.90" stroke="#111" stroke-width="1.6"/>
<line x1="400.90" y1="339.10" x2="433.00" y2="339.10" stroke="#111" stroke-width="1.6"/>
<line x1="448.30" y1="333.60" x2="480.00" y2="333.60" stroke="#111" stroke-width="1.6"/>
<path d="M321.30,217.40 L321.30,212.90 L416.70,212.90 L416.70,217.40" fill="none" stroke="#111" stroke-width="1.8"/>
<polygon points="365.40,204.60 366.34,206.51 368.44,206.81 366.92,208.29 367.28,210.39 365.40,209.40 363.52,210.39 363.88,208.29 362.36,206.81 364.46,206.51" fill="#111"/>
<polygon points="372.20,204.60 373.14,206.51 375.24,206.81 373.72,208.29 374.08,210.39 372.20,209.40 370.32,210.39 370.68,208.29 369.16,206.81 371.26,206.51" fill="#111"/>
<path d="M367.00,198.00 L367.00,193.80 L464.60,193.80 L464.60,198.00" fill="none" stroke="#111" stroke-width="1.7"/>
<polygon points="415.20,185.20 416.17,187.17 418.34,187.48 416.77,189.01 417.14,191.17 415.20,190.15 413.26,191.17 413.63,189.01 412.06,187.48 414.23,187.17" fill="#111"/>
<rect x="19.61" y="20.37" width="2.78" height="1.98" fill="#fff"/>
<rect x="23.26" y="20.37" width="2.27" height="1.98" fill="#fff"/>
<rect x="201.00" y="158.77" width="2.78" height="1.98" fill="#fff"/>
<rect x="204.66" y="158.77" width="2.27" height="1.98" fill="#fff"/>
<rect x="250.31" y="24.27" width="2.78" height="1.98" fill="#fff"/>
<rect x="253.96" y="24.27" width="2.27" height="1.98" fill="#fff"/>
<rect x="426.70" y="158.87" width="2.78" height="1.98" fill="#fff"/>
<rect x="430.36" y="158.87" width="2.27" height="1.98" fill="#fff"/>
<rect x="17.96" y="220.91" width="1.99" height="2.04" fill="#fff"/>
<rect x="20.96" y="220.91" width="1.52" height="2.04" fill="#fff"/>
<rect x="32.26" y="220.91" width="1.99" height="2.04" fill="#fff"/>
<rect x="35.26" y="220.91" width="1.52" height="2.04" fill="#fff"/>
<rect x="17.96" y="273.26" width="1.99" height="2.04" fill="#fff"/>
<rect x="20.96" y="273.26" width="1.52" height="2.04" fill="#fff"/>
<rect x="32.26" y="273.26" width="1.99" height="2.04" fill="#fff"/>
<rect x="35.26" y="273.26" width="1.52" height="2.04" fill="#fff"/>
<rect x="17.96" y="325.61" width="1.99" height="2.04" fill="#fff"/>
<rect x="20.96" y="325.61" width="1.52" height="2.04" fill="#fff"/>
<rect x="32.26" y="325.61" width="1.99" height="2.04" fill="#fff"/>
<rect x="35.26" y="325.61" width="1.52" height="2.04" fill="#fff"/>
<rect x="248.07" y="223.67" width="2.78" height="1.98" fill="#fff"/>
<rect x="251.73" y="223.67" width="2.27" height="1.98" fill="#fff"/>
<rect x="266.53" y="223.67" width="2.78" height="1.98" fill="#fff"/>
<rect x="270.18" y="223.67" width="2.27" height="1.98" fill="#fff"/>
<rect x="248.07" y="257.87" width="2.78" height="1.98" fill="#fff"/>
<rect x="251.73" y="257.87" width="2.27" height="1.98" fill="#fff"/>
<rect x="266.53" y="257.87" width="2.78" height="1.98" fill="#fff"/>
<rect x="270.18" y="257.87" width="2.27" height="1.98" fill="#fff"/>
<rect x="248.07" y="323.07" width="2.78" height="1.98" fill="#fff"/>
<rect x="251.73" y="323.07" width="2.27" height="1.98" fill="#fff"/>
<rect x="266.53" y="323.07" width="2.78" height="1.98" fill="#fff"/>
<rect x="270.18" y="323.07" width="2.27" height="1.98" fill="#fff"/>
</svg></body></html>
